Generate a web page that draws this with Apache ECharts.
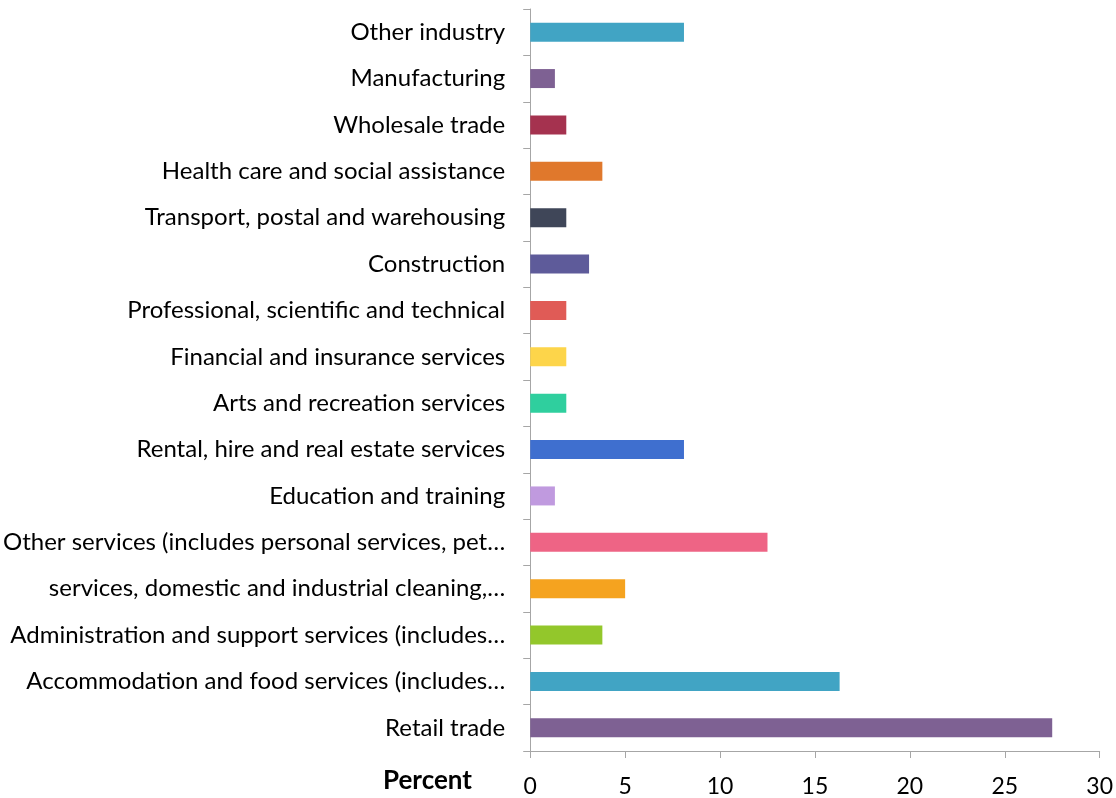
<!DOCTYPE html>
<html>
<head>
<meta charset="utf-8">
<script src="https://cdn.jsdelivr.net/npm/echarts@6/dist/echarts.min.js"></script>
<style>
  html, body { margin: 0; padding: 0; background: #fff; }
  #chart { width: 1116px; height: 798px; }
</style>
</head>
<body>
<div id="chart"></div>
<script>
// Industry categories, bottom to top
const categories = [
  'Retail trade',
  'Accommodation and food services (includes…',
  'Administration and support services (includes…',
  'services, domestic and industrial cleaning,…',
  'Other services (includes personal services, pet…',
  'Education and training',
  'Rental, hire and real estate services',
  'Arts and recreation services',
  'Financial and insurance services',
  'Professional, scientific and technical',
  'Construction',
  'Transport, postal and warehousing',
  'Health care and social assistance',
  'Wholesale trade',
  'Manufacturing',
  'Other industry'
];

// Share of businesses, percent
const percentValues = [27.5, 16.3, 3.8, 5.0, 12.5, 1.3, 8.1, 1.9, 1.9, 1.9, 3.1, 1.9, 3.8, 1.9, 1.3, 8.1];

// One colour per bar
const barColors = [
  '#7E6193', '#41A4C4', '#93C72B', '#F5A31F', '#EE6485', '#C09ADF',
  '#3F6FCF', '#2FCF9E', '#FDD54A', '#E05B56', '#5E5B9A', '#3F4658',
  '#E0782C', '#A5324F', '#7E6193', '#41A4C4'
];

const xTicks = { min: 0, max: 30, interval: 5 };

const chart = echarts.init(document.getElementById('chart'));
const fontFamily = 'Lato, "Open Sans", sans-serif';

chart.setOption({
  animation: false,
  backgroundColor: '#ffffff',
  grid: { left: 529, right: 16, top: 9, bottom: 45, containLabel: false },
  xAxis: {
    type: 'value',
    min: xTicks.min,
    max: xTicks.max,
    interval: xTicks.interval,
    axisLine: { show: true, lineStyle: { color: '#A6A6A6', width: 1 } },
    axisTick: { show: true, length: 7, lineStyle: { color: '#A6A6A6' } },
    splitLine: { show: false },
    axisLabel: { color: '#000', fontSize: 23, fontFamily: fontFamily, margin: 24 }
  },
  yAxis: {
    type: 'category',
    data: categories,
    axisLine: { show: true, lineStyle: { color: '#A6A6A6', width: 1 } },
    axisTick: { show: true, length: 7, lineStyle: { color: '#A6A6A6' } },
    axisLabel: { color: '#000', fontSize: 24, fontFamily: fontFamily, margin: 25 }
  },
  series: [{
    type: 'bar',
    barWidth: 19,
    data: percentValues.map((v, i) => ({ value: v, itemStyle: { color: barColors[i] } }))
  }],
  graphic: [{
    type: 'text',
    right: 644,
    top: 768,
    style: {
      text: 'Percent',
      fill: '#000',
      font: 'bold 26px ' + fontFamily
    }
  }]
});
</script>
</body>
</html>
